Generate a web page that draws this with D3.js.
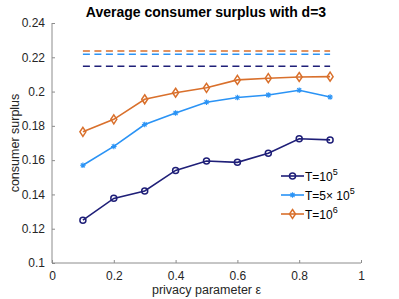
<!DOCTYPE html>
<html>
<head>
<meta charset="utf-8">
<script src="https://cdn.jsdelivr.net/npm/d3@7"></script>
<style>
body { margin: 0; background: #fff; }
svg text { font-family: "Liberation Sans", Arial, sans-serif; }
</style>
</head>
<body>
<svg id="chart" width="399" height="299"></svg>
<script>
var eps = [0.1, 0.2, 0.3, 0.4, 0.5, 0.6, 0.7, 0.8, 0.9];
var t1e5 = [0.125, 0.1377, 0.142, 0.154, 0.1595, 0.1587, 0.164, 0.1725, 0.1718];
var t5e5 = [0.157, 0.168, 0.1808, 0.1875, 0.1938, 0.1965, 0.198, 0.2008, 0.1968];
var t1e6 = [0.1765, 0.1838, 0.1955, 0.1993, 0.2022, 0.2068, 0.2078, 0.2085, 0.2087];
var limits = [0.2148, 0.2218, 0.2237];
var xTicks = [0, 0.2, 0.4, 0.6, 0.8, 1];
var yTicks = [0.1, 0.12, 0.14, 0.16, 0.18, 0.2, 0.22, 0.24];
var colors = ["#1f1f78", "#2a93f5", "#d9702c"];

var svg = d3.select("#chart");
var pLeft = 52, pRight = 361, pTop = 23, pBottom = 263;

var xs = d3.scaleLinear().domain([0, 1]).range([pLeft, pRight]);
var ys = d3.scaleLinear().domain([0.1, 0.24]).range([pBottom, pTop]);

// axes, ticks point inward like matlab
var xAxis = d3.axisBottom(xs).tickValues(xTicks).tickSize(-3).tickPadding(8)
    .tickFormat(function(d) { return d3.format("~g")(d); });
var yAxis = d3.axisLeft(ys).tickValues(yTicks).tickSize(-3).tickPadding(7)
    .tickFormat(function(d) { return d3.format("~g")(d); });

var gx = svg.append("g").attr("transform", "translate(0," + pBottom + ")").call(xAxis);
var gy = svg.append("g").attr("transform", "translate(" + pLeft + ",0)").call(yAxis);
[gx, gy].forEach(function(g) {
    g.select(".domain").attr("stroke", "#8c8c8c");
    g.selectAll(".tick line").attr("stroke", "#8c8c8c");
    g.selectAll(".tick text").attr("fill", "#262626").style("font-size", "12px");
});
gx.select(".domain").attr("d", "M" + pLeft + ",0H" + pRight);
gy.select(".domain").attr("d", "M0," + pBottom + "V" + pTop);

// dashed limit lines
limits.forEach(function(v, i) {
    svg.append("line")
        .attr("x1", xs(0.1)).attr("x2", xs(0.9))
        .attr("y1", ys(v)).attr("y2", ys(v))
        .attr("stroke", colors[i]).attr("stroke-width", 1.5)
        .attr("stroke-dasharray", "7,4.5");
});

var line = d3.line().x(function(d) { return xs(d[0]); }).y(function(d) { return ys(d[1]); });
var series = [t1e5, t5e5, t1e6];

function marker(g, kind, x, y, c) {
    if (kind == 0) {
        g.append("circle").attr("cx", x).attr("cy", y).attr("r", 3)
            .attr("fill", "none").attr("stroke", c).attr("stroke-width", 1.5);
    } else if (kind == 1) {
        var r = 2.8, d = 2;
        g.append("path")
            .attr("d", "M" + (x - r) + "," + y + "H" + (x + r) +
                       "M" + x + "," + (y - r) + "V" + (y + r) +
                       "M" + (x - d) + "," + (y - d) + "L" + (x + d) + "," + (y + d) +
                       "M" + (x - d) + "," + (y + d) + "L" + (x + d) + "," + (y - d))
            .attr("stroke", c).attr("stroke-width", 1.1);
    } else {
        g.append("path")
            .attr("d", "M" + x + "," + (y - 4.5) + "L" + (x + 3) + "," + y + "L" + x + "," + (y + 4.5) + "L" + (x - 3) + "," + y + "Z")
            .attr("fill", "none").attr("stroke", c).attr("stroke-width", 1.5);
    }
}

series.forEach(function(s, i) {
    var pts = eps.map(function(e, j) { return [e, s[j]]; });
    svg.append("path").datum(pts).attr("d", line)
        .attr("fill", "none").attr("stroke", colors[i]).attr("stroke-width", 1.6);
    var g = svg.append("g");
    pts.forEach(function(p) { marker(g, i, xs(p[0]), ys(p[1]), colors[i]); });
});

// legend
var legY = [176, 195, 214];
var legText = [["T=10", "5"], ["T=5\u00d7 10", "5"], ["T=10", "6"]];
legY.forEach(function(y, i) {
    svg.append("line").attr("x1", 281).attr("x2", 304).attr("y1", y).attr("y2", y)
        .attr("stroke", colors[i]).attr("stroke-width", 1.6);
    marker(svg, i, 292.5, y, colors[i]);
    var t = svg.append("text").attr("x", 305).attr("y", y + 4.5)
        .attr("fill", "#000").style("font-size", "12px");
    t.append("tspan").text(legText[i][0]);
    t.append("tspan").attr("dy", -5.5).style("font-size", "9px").text(legText[i][1]);
});

// title and labels
svg.append("text").attr("x", 206).attr("y", 17)
    .attr("text-anchor", "middle").style("font-size", "14px").style("font-weight", "bold")
    .text("Average consumer surplus with d=3");
svg.append("text").attr("x", (pLeft + pRight) / 2).attr("y", 294)
    .attr("text-anchor", "middle").attr("fill", "#262626").style("font-size", "12.5px")
    .text("privacy parameter \u03b5");
svg.append("text").attr("transform", "rotate(-90)")
    .attr("x", -(pTop + pBottom) / 2).attr("y", 19)
    .attr("text-anchor", "middle").attr("fill", "#262626").style("font-size", "12.5px")
    .text("consumer surplus");
</script>
</body>
</html>
